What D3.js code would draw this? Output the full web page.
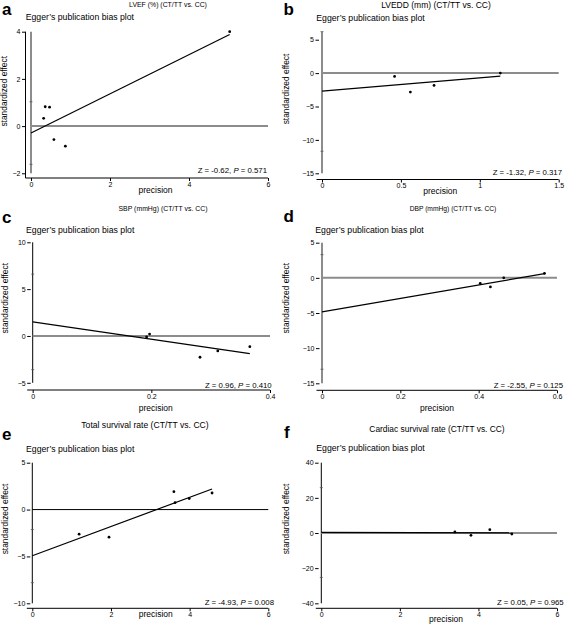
<!DOCTYPE html>
<html><head><meta charset="utf-8">
<script src="https://cdn.jsdelivr.net/npm/d3@7"></script>
<style>
body{margin:0;background:#fff}
svg{display:block}
text{font-family:"Liberation Sans",Arial,Helvetica,sans-serif;fill:#000}
</style>
</head><body>
<svg id="chart" width="565" height="626"></svg>
<script>
// ---------------- DATA ----------------
const panelKeys = ["a","b","c","d","e","f"];
const panelTitles = [
  "LVEF (%) (CT/TT vs. CC)",
  "LVEDD (mm) (CT/TT vs. CC)",
  "SBP (mmHg) (CT/TT vs. CC)",
  "DBP (mmHg) (CT/TT vs. CC)",
  "Total survival rate (CT/TT vs. CC)",
  "Cardiac survival rate (CT/TT vs. CC)"
];
const subtitle = "Egger\u2019s publication bias plot";
const xLabel = "precision";
const yLabel = "standardized effect";

const precisionA = [0.32, 0.36, 0.47, 0.58, 0.87, 5.03];
const effectA    = [0.33, 0.82, 0.80, -0.57, -0.85, 4.00];
const precisionB = [0.46, 0.56, 0.71, 1.13];
const effectB    = [-0.49, -2.84, -1.84, 0.00];
const precisionC = [0.192, 0.197, 0.282, 0.312, 0.366];
const effectC    = [-0.10, 0.20, -2.27, -1.60, -1.14];
const precisionD = [0.404, 0.430, 0.464, 0.568];
const effectD    = [-0.80, -1.29, 0.00, 0.63];
const precisionE = [1.19, 1.95, 3.60, 3.63, 3.99, 4.57];
const effectE    = [-2.63, -2.95, 1.91, 0.74, 1.17, 1.77];
const precisionF = [3.40, 3.81, 4.29, 4.85];
const effectF    = [0.57, -1.30, 1.90, -0.57];

const intercepts = [-0.29, -2.70, 1.50, -4.85, -4.93, 0.30];
const slopes     = [0.83, 2.00, -9.26, 9.60, 1.56, -0.04];
const ciLow      = [-1.62, -11.7, -3.6, -13.0, -7.8, -25.3];
const ciHigh     = [1.03, 6.2, 6.6, 3.3, -2.13, 25.8];
const zValues    = ["-0.62", "-1.32", "0.96", "-2.55", "-4.93", "0.05"];
const pValues    = ["0.571", "0.317", "0.410", "0.125", "0.008", "0.965"];

const xDomains = [[0,6],[0,1.5],[0,0.4],[0,0.6],[0,6],[0,6]];
const yDomains = [[-2,4],[-15,6.2],[-5,10],[-15,5],[-10,5],[-40,40]];
const xTicks = [[0,2,4,6],[0,0.5,1,1.5],[0,0.2,0.4],[0,0.2,0.4,0.6],[0,2,4,6],[0,2,4,6]];
const yTicks = [[-2,0,2,4],[-15,-10,-5,0,5],[-5,0,5,10],[-15,-10,-5,0,5],[-10,-5,0,5],[-40,-20,0,20,40]];

const precisions = [precisionA, precisionB, precisionC, precisionD, precisionE, precisionF];
const effects    = [effectA, effectB, effectC, effectD, effectE, effectF];

// ---------------- LAYOUT / STYLE ----------------
const GRAY = "#8c8c8c";
const layout = [
  {x0:31,   x1:268,   y0:31.7,  y1:173.3, axisY:178,   xtY:193,   xtX:155.5, ytX:7,   ytY:91.3,  lX:2,     lY:15,    tX:168, tY:6.5,  tS:6.9, sX:25.7,  sY:20,    zX:267,   zY:173,   yOff:5.5, yDom:true,  vCol:GRAY,   hCol:GRAY},
  {x0:322,  x1:558.7, y0:31.7,  y1:173.3, axisY:179.5, xtY:193.5, xtX:440.3, ytX:289, ytY:89,    lX:283.5, lY:15,    tX:436, tY:7.5,  tS:8.5, sX:316.3, sY:21,    zX:562,   zY:174.7, yOff:3,   yDom:false, vCol:GRAY,   hCol:GRAY},
  {x0:32.7, x1:270,   y0:242.3, y1:382.8, axisY:390,   xtY:411,   xtX:155.8, ytX:8,   ytY:298.3, lX:2,     lY:223,   tX:163, tY:211,  tS:6.9, sX:26,    sY:232.5, zX:271.7, zY:387.5, yOff:2,   yDom:false, vCol:"#000", hCol:GRAY},
  {x0:322,  x1:557,   y0:242.7, y1:383.3, axisY:390.3, xtY:411,   xtX:437,   ytX:289, ytY:298.3, lX:283.5, lY:221.5, tX:453, tY:211,  tS:6.7, sX:315.3, sY:232.5, zX:563,   zY:388,   yOff:2.5, yDom:false, vCol:GRAY,   hCol:GRAY},
  {x0:32.3, x1:268.3, y0:462.7, y1:603.3, axisY:608.3, xtY:616.5, xtX:155.8, ytX:8,   ytY:519,   lX:2,     lY:440,   tX:145, tY:428,  tS:8.6, sX:26,    sY:451.5, zX:274,   zY:605,   yOff:2,   yDom:false, vCol:"#000", hCol:"#000"},
  {x0:321.3,x1:557,   y0:462.7, y1:603.3, axisY:608.3, xtY:622,   xtX:446,   ytX:289, ytY:519,   lX:284,   lY:438,   tX:437, tY:431.5,tS:8.4, sX:316.3, sY:451,    zX:563.7, zY:605,   yOff:2.7, yDom:false, vCol:"#000", hCol:GRAY}
];

const svg = d3.select("#chart");
const fmt = d3.format("~g");

panelKeys.forEach((key, i) => {
  const L = layout[i];
  const x = d3.scaleLinear().domain(xDomains[i]).range([L.x0, L.x1]);
  const y = d3.scaleLinear().domain(yDomains[i]).range([L.y1, L.y0]);
  const g = svg.append("g").attr("class", "panel-" + key);

  // panel letter
  g.append("text").attr("x", L.lX).attr("y", L.lY)
    .attr("font-size", 17).attr("font-weight", "bold").text(key);
  // title
  g.append("text").attr("x", L.tX).attr("y", L.tY).attr("text-anchor", "middle")
    .attr("font-size", L.tS).text(panelTitles[i]);
  // subtitle
  g.append("text").attr("x", L.sX).attr("y", L.sY)
    .attr("font-size", 8.7).text(subtitle);

  // reference lines (x = 0 vertical, y = 0 horizontal)
  g.append("line")
    .attr("x1", x(0)).attr("x2", x(0))
    .attr("y1", y(yDomains[i][0])).attr("y2", y(yDomains[i][1]))
    .attr("stroke", L.vCol).attr("stroke-width", L.vCol === GRAY ? 2 : 1);
  g.append("line")
    .attr("x1", x(xDomains[i][0])).attr("x2", x(xDomains[i][1]))
    .attr("y1", y(0)).attr("y2", y(0))
    .attr("stroke", L.hCol).attr("stroke-width", L.hCol === GRAY ? 2 : 1);

  // CI caps of intercept
  [ciLow[i], ciHigh[i]].forEach(v => {
    g.append("line")
      .attr("x1", x(0) - 1.5).attr("x2", x(0) + 1.5)
      .attr("y1", y(v)).attr("y2", y(v))
      .attr("stroke", "#555").attr("stroke-width", 0.8);
  });

  // regression line
  const xMax = d3.max(precisions[i]);
  g.append("line")
    .attr("x1", x(0)).attr("y1", y(intercepts[i]))
    .attr("x2", x(xMax)).attr("y2", y(intercepts[i] + slopes[i] * xMax))
    .attr("stroke", "#000").attr("stroke-width", 1.2);

  // points
  g.selectAll("circle.pt").data(precisions[i].map((p, j) => [p, effects[i][j]]))
    .enter().append("circle").attr("class", "pt")
    .attr("cx", d => x(d[0])).attr("cy", d => y(d[1])).attr("r", 1.4)
    .attr("fill", "#000");

  // x axis
  const gx = g.append("g").attr("transform", `translate(0,${L.axisY})`)
    .call(d3.axisBottom(x).tickValues(xTicks[i]).tickSize(3).tickSizeOuter(0).tickPadding(1).tickFormat(fmt));
  gx.select(".domain").remove();
  gx.append("line").attr("x1", L.x0 - 5.5).attr("x2", L.x1).attr("y1", 0).attr("y2", 0)
    .attr("stroke", "#000").attr("stroke-width", 1);
  gx.selectAll("text").attr("font-size", 7);
  gx.attr("font-family", null);

  // y axis
  const gy = g.append("g").attr("transform", `translate(${L.x0 - L.yOff},0)`)
    .call(d3.axisLeft(y).tickValues(yTicks[i]).tickSize(3.5).tickSizeOuter(0).tickPadding(1.5).tickFormat(fmt));
  gy.select(".domain").remove();
  if (L.yDom) {
    gy.append("line").attr("x1", 0).attr("x2", 0).attr("y1", L.y0).attr("y2", L.axisY)
      .attr("stroke", "#000").attr("stroke-width", 1);
  }
  gy.selectAll("text").attr("font-size", 7);
  gy.attr("font-family", null);

  // axis titles
  g.append("text").attr("x", L.xtX).attr("y", L.xtY).attr("text-anchor", "middle")
    .attr("font-size", 8.5).text(xLabel);
  g.append("text").attr("transform", `translate(${L.ytX},${L.ytY}) rotate(-90)`)
    .attr("text-anchor", "middle").attr("font-size", 8.4).text(yLabel);

  // statistic
  const st = g.append("text").attr("x", L.zX).attr("y", L.zY).attr("text-anchor", "end")
    .attr("font-size", 7.8);
  st.append("tspan").text(`Z = ${zValues[i]}, `);
  st.append("tspan").attr("font-style", "italic").text("P");
  st.append("tspan").text(` = ${pValues[i]}`);
});
</script>
</body></html>
